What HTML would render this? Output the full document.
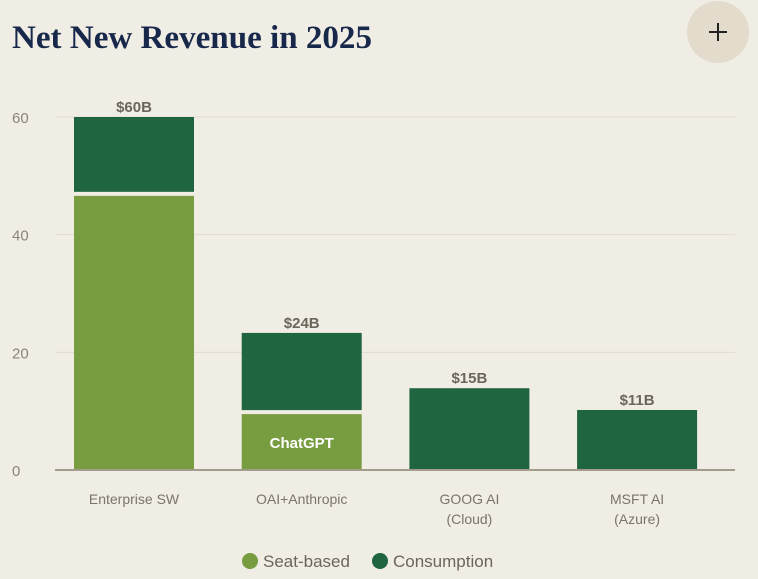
<!DOCTYPE html>
<html><head><meta charset="utf-8"><style>
html,body{margin:0;padding:0;background:#f0ede5;width:758px;height:579px;overflow:hidden;font-family:"Liberation Sans",sans-serif}
</style></head><body>
<svg id="chart" width="758" height="579" xmlns="http://www.w3.org/2000/svg">
<rect width="758" height="579" fill="#f0ede5"/>
<text x="12" y="48" font-family="Liberation Serif,serif" font-size="33" font-weight="bold" fill="#17284a" textLength="360" lengthAdjust="spacingAndGlyphs">Net New Revenue in 2025</text>
<g>
<circle cx="718" cy="32" r="31" fill="#e3dccd"/>
<path d="M709 32h18M718 23v18" stroke="#222" stroke-width="2"/>
</g>
<g id="grid"></g><g id="bars"></g><g id="labels"></g>
<g>
<g><circle cx="250" cy="561" r="8" fill="#789c40"/><text x="263" y="567" font-size="17" fill="#6b6659">Seat-based</text></g>
<g><circle cx="380" cy="561" r="8" fill="#1e6540"/><text x="393" y="567" font-size="17" fill="#6b6659">Consumption</text></g>
</g>
</svg>
<script>
const categories=["Enterprise SW","OAI+Anthropic","GOOG AI|(Cloud)","MSFT AI|(Azure)"];
const seatValues=[46.6,9.5,0,0];
const consumptionValues=[13.4,13.8,13.9,10.2];
const totalLabels=["$60B","$24B","$15B","$11B"];
const seatLabels=["","ChatGPT","",""];
const yTicks=[0,20,40,60];
const NS="http://www.w3.org/2000/svg";
const y0=470,pxPer=353/60;
function y(v){return y0-v*pxPer;}
function x(i){return 74+i*167.7;}
const bw=120;
function mk(tag,attrs,parent,txt){const e=document.createElementNS(NS,tag);for(const k in attrs)e.setAttribute(k,attrs[k]);if(txt!==undefined)e.textContent=txt;parent.appendChild(e);return e;}
const grid=document.getElementById('grid'),bars=document.getElementById('bars'),labels=document.getElementById('labels');
yTicks.forEach(t=>{
 if(t>0){const l=mk('line',{x1:55,x2:735,y1:y(t),y2:y(t),stroke:'#e0dccf','stroke-width':1},grid);
 
 }
 const tx=mk('text',{x:12,y:y(t)+6,'font-size':15,fill:'#8a8578'},grid,String(t));
 
 
});
categories.forEach((c,i)=>{
 const s=seatValues[i],cv=consumptionValues[i],tot=s+cv;
 if(s>0){const r=mk('rect',{x:x(i),y:y(s),width:bw,height:y0-y(s),fill:'#789c40'},bars);
 
 }
 const gap=s>0?4:0;
 const r2=mk('rect',{x:x(i),y:y(tot),width:bw,height:y(s)-y(tot)-gap,fill:'#1e6540'},bars);
 
 
 const tl=mk('text',{x:x(i)+bw/2,y:y(tot)-5,'text-anchor':'middle','font-size':15,'font-weight':'bold',fill:'#6b6659'},labels,totalLabels[i]);
 
 
 if(seatLabels[i]){const sl=mk('text',{x:x(i)+bw/2,y:(y(s)+y0)/2+6,'text-anchor':'middle','font-size':15,'font-weight':'bold',fill:'#fff'},labels,seatLabels[i]);
 
 }
 c.split('|').forEach((ln,j)=>{const t=mk('text',{x:x(i)+bw/2,y:504+j*20,'text-anchor':'middle','font-size':14,fill:'#7a7568'},labels,ln);
 
 });
});
const base=mk('line',{x1:55,x2:735,y1:y0,y2:y0,stroke:'#a39c8c','stroke-width':2},labels);


</script>
</body></html>
